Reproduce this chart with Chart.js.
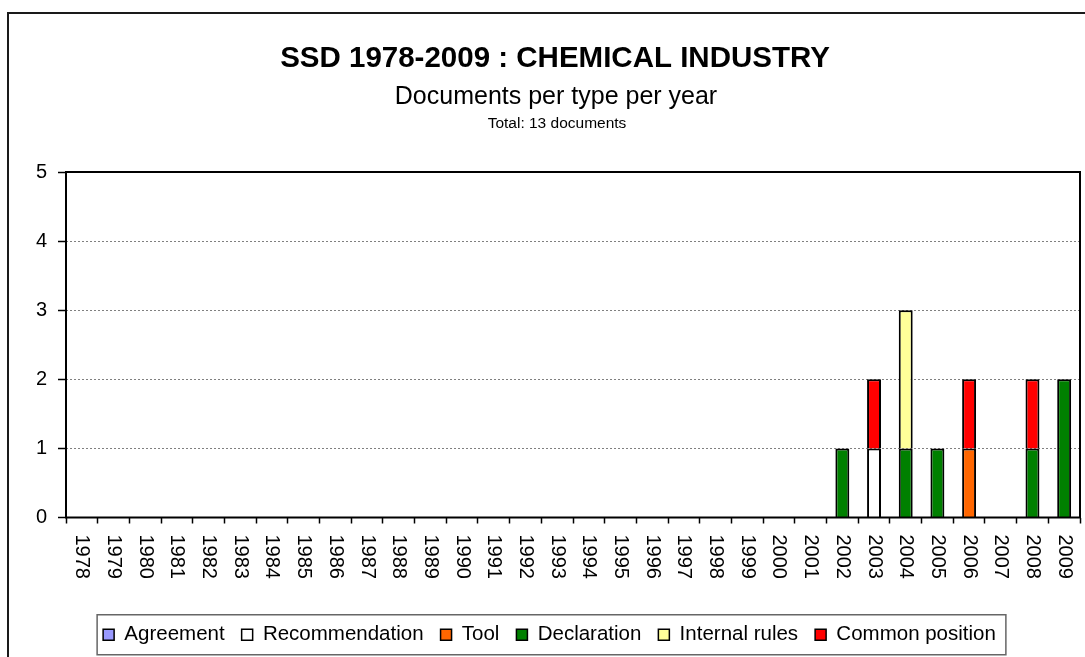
<!DOCTYPE html>
<html>
<head>
<meta charset="utf-8">
<script src="https://cdn.jsdelivr.net/npm/chart.js@4/dist/chart.umd.min.js"></script>
<style>
html,body{margin:0;padding:0;background:#fff;}
#wrap{width:1085px;height:657px;position:relative;}
</style>
</head>
<body>
<div id="wrap"><canvas id="c" width="1085" height="657"></canvas></div>
<script>
const titleText = 'SSD 1978-2009 : CHEMICAL INDUSTRY';
const subtitleText = 'Documents per type per year';
const totalText = 'Total: 13 documents';

const years = ['1978','1979','1980','1981','1982','1983','1984','1985','1986','1987','1988','1989','1990','1991','1992','1993','1994','1995','1996','1997','1998','1999','2000','2001','2002','2003','2004','2005','2006','2007','2008','2009'];
const yTicks = [0, 1, 2, 3, 4, 5];

const agreement      = [0,0,0,0,0,0,0,0,0,0,0,0,0,0,0,0,0,0,0,0,0,0,0,0, 0,0,0,0,0,0,0,0];
const recommendation = [0,0,0,0,0,0,0,0,0,0,0,0,0,0,0,0,0,0,0,0,0,0,0,0, 0,1,0,0,0,0,0,0];
const tool           = [0,0,0,0,0,0,0,0,0,0,0,0,0,0,0,0,0,0,0,0,0,0,0,0, 0,0,0,0,1,0,0,0];
const declaration    = [0,0,0,0,0,0,0,0,0,0,0,0,0,0,0,0,0,0,0,0,0,0,0,0, 1,0,1,1,0,0,1,2];
const internalRules  = [0,0,0,0,0,0,0,0,0,0,0,0,0,0,0,0,0,0,0,0,0,0,0,0, 0,0,2,0,0,0,0,0];
const commonPosition = [0,0,0,0,0,0,0,0,0,0,0,0,0,0,0,0,0,0,0,0,0,0,0,0, 0,1,0,0,1,0,1,0];

const seriesNames = ['Agreement','Recommendation','Tool','Declaration','Internal rules','Common position'];
const seriesColors = ['#9999FF','#FFFFFF','#FF6600','#008000','#FFFF99','#FF0000'];
const seriesData = [agreement, recommendation, tool, declaration, internalRules, commonPosition];

const FONT = '"Liberation Sans", Arial, sans-serif';

const datasets = seriesNames.map((name, i) => ({
  label: name,
  data: seriesData[i].map(v => v === 0 ? null : v),
  backgroundColor: seriesColors[i],
  borderColor: '#000',
  borderWidth: 2,
  barPercentage: 0.44,
  categoryPercentage: 1.0
}));

const deco = {
  id: 'deco',
  beforeDraw(chart) {
    const ctx = chart.ctx;
    ctx.save();
    ctx.fillStyle = '#fff';
    ctx.fillRect(0, 0, chart.width, chart.height);
    ctx.restore();
  },
  afterDraw(chart) {
    const ctx = chart.ctx;
    ctx.save();
    // outer frame
    ctx.strokeStyle = '#1a1a1a';
    ctx.lineWidth = 2;
    ctx.strokeRect(8, 13, 1200, 1200);
    // titles
    ctx.fillStyle = '#000';
    ctx.textAlign = 'center';
    ctx.textBaseline = 'alphabetic';
    ctx.font = 'bold 29.5px ' + FONT;
    ctx.fillText(titleText, 555, 67);
    ctx.font = '25px ' + FONT;
    ctx.fillText(subtitleText, 556, 104);
    ctx.font = '15.5px ' + FONT;
    ctx.fillText(totalText, 557, 128);
    // x labels rotated clockwise
    const xs = chart.scales.x;
    ctx.font = '20px ' + FONT;
    ctx.textAlign = 'left';
    ctx.textBaseline = 'middle';
    xs.ticks.forEach((t, i) => {
      const x = xs.getPixelForTick(i);
      ctx.save();
      ctx.translate(x, xs.top + 17);
      ctx.rotate(Math.PI / 2);
      ctx.fillText(xs.getLabelForValue(t.value), 0, 0);
      ctx.restore();
    });
    // plot frame
    const a = chart.chartArea;
    ctx.strokeStyle = '#000';
    ctx.lineWidth = 2;
    ctx.strokeRect(a.left, a.top, a.right - a.left, a.bottom - a.top);
    // legend frame
    const hb = chart.legend.legendHitBoxes;
    if (hb && hb.length) {
      const l = hb[0].left - 6;
      const last = hb[hb.length - 1];
      const r = last.left + last.width + 10;
      const cy = hb[0].top + hb[0].height / 2;
      ctx.strokeStyle = '#666';
      ctx.lineWidth = 1.5;
      ctx.strokeRect(l, cy - 20, r - l, 40);
    }
    ctx.restore();
  }
};

new Chart(document.getElementById('c'), {
  type: 'bar',
  data: { labels: years, datasets },
  plugins: [deco],
  options: {
    responsive: false,
    animation: false,
    devicePixelRatio: 1,
    layout: { padding: { top: 172, left: 19, right: 5, bottom: 2 } },
    plugins: {
      title: { display: false },
      tooltip: { enabled: false },
      legend: {
        position: 'bottom',
        labels: {
          font: { family: FONT, size: 20.5 },
          color: '#000',
          boxWidth: 11,
          boxHeight: 11,
          padding: 17,
          generateLabels(chart) {
            const items = Chart.defaults.plugins.legend.labels.generateLabels(chart);
            items.forEach(it => { it.lineWidth = 1.5; it.strokeStyle = '#000'; });
            return items;
          }
        }
      }
    },
    scales: {
      x: {
        stacked: true,
        grid: { display: true, drawOnChartArea: false, drawTicks: true, tickLength: 6, tickColor: '#000', tickWidth: 1.5, offset: true },
        border: { display: false },
        ticks: { display: false },
        afterFit(s) { s.height = 90; }
      },
      y: {
        stacked: true,
        min: yTicks[0],
        max: yTicks[yTicks.length - 1],
        afterBuildTicks(s) { s.ticks = yTicks.map(v => ({ value: v })); },
        ticks: { stepSize: 1, font: { family: FONT, size: 20 }, color: '#000', padding: 11 },
        grid: {
          color: c => (c.tick && (c.tick.value === yTicks[0] || c.tick.value === yTicks[yTicks.length - 1])) ? 'rgba(0,0,0,0)' : '#808080',
          lineWidth: 1,
          tickColor: '#000',
          tickLength: 8,
          tickWidth: 1.5
        },
        border: { display: false, dash: [2, 2] },
        afterFit(s) { s.width = 47; }
      }
    }
  }
});
</script>
</body>
</html>
